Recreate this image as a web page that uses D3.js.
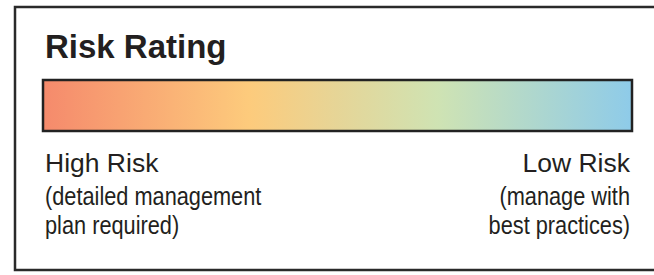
<!DOCTYPE html>
<html lang="en">
<head>
    <meta charset="UTF-8">
    <title>Risk Rating</title>
    <style>
        body { margin: 0; background: #fff; }
        text { font-family: "Liberation Sans", Arial, Helvetica, sans-serif; fill: #231f20; }
    </style>
</head>
<body>
    <svg width="654" height="275"></svg>
    <script src="https://d3js.org/d3.v7.min.js"></script>
    <script>

        // values
        let title = "Risk Rating",
            stopOffsets = [0, 0.35, 0.5, 0.67, 1],
            stopColors = ["#f58a6c", "#fdcb7c", "#e6d597", "#cfe3b3", "#8ecbe9"],
            leftLabels = ["High Risk", "(detailed management", "plan required)"],
            rightLabels = ["Low Risk", "(manage with", "best practices)"];

        let svg = d3.select("svg");

        let x = d3.scaleLinear().domain([0, 1]).range([43, 632]),
            lineY = [172, 205, 234];

        // gradient
        let grad = svg.append("defs").append("linearGradient")
            .attr("id", "risk")
            .attr("x1", "0%").attr("x2", "100%")
            .attr("y1", "0%").attr("y2", "0%");

        grad.selectAll("stop")
            .data(stopOffsets)
            .join("stop")
            .attr("offset", d => d * 100 + "%")
            .attr("stop-color", (d, i) => stopColors[i]);

        // outer frame, right edge runs off the picture
        svg.append("rect")
            .attr("x", 15).attr("y", 7)
            .attr("width", 660).attr("height", 263)
            .attr("fill", "none")
            .attr("stroke", "#2a2a2a")
            .attr("stroke-width", 2.5);

        svg.append("text")
            .attr("x", 45).attr("y", 58)
            .attr("font-size", 33)
            .attr("font-weight", "bold")
            .text(title);

        svg.append("rect")
            .attr("x", x(0)).attr("y", 80)
            .attr("width", x(1) - x(0)).attr("height", 51)
            .attr("fill", "url(#risk)")
            .attr("stroke", "#222")
            .attr("stroke-width", 2.5);

        function labels(list, xpos, anchor) {
            list.forEach(function (t, i) {
                let narrow = i > 0;
                svg.append("text")
                    .attr("transform", "translate(" + xpos + "," + lineY[i] + ")" + (narrow ? " scale(0.87,1)" : ""))
                    .attr("text-anchor", anchor)
                    .attr("font-size", narrow ? 25 : 26.5)
                    .text(t);
            });
        }

        labels(leftLabels, x(0) + 2, "start");
        labels(rightLabels, x(1) - 2, "end");

    </script>
</body>
</html>
